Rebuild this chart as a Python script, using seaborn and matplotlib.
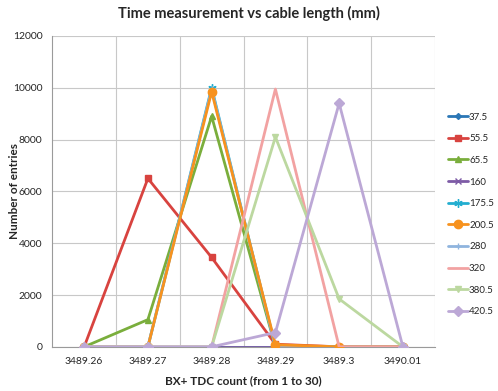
import numpy as np
import pandas as pd
import matplotlib
matplotlib.use("Agg")
import matplotlib.pyplot as plt
import seaborn as sns

# categories on x axis (BX+ TDC count)
x_labels = ["3489.26", "3489.27", "3489.28", "3489.29", "3489.3", "3490.01"]

# cable lengths (mm) and counts per category
cable = ["37.5", "55.5", "65.5", "160", "175.5", "200.5", "280", "320", "380.5", "420.5"]
v_37_5 = [0, 0, 0, 0, 0, 0]
v_55_5 = [0, 6500, 3450, 100, 0, 0]
v_65_5 = [0, 1050, 8900, 0, 0, 0]
v_160 = [0, 0, 0, 0, 0, 0]
v_175_5 = [0, 0, 10000, 0, 0, 0]
v_200_5 = [0, 0, 9850, 80, 0, 0]
v_280 = [0, 0, 9950, 0, 0, 0]
v_320 = [0, 0, 0, 9950, 0, 0]
v_380_5 = [0, 0, 0, 8100, 1850, 0]
v_420_5 = [0, 0, 0, 550, 9400, 0]

values = [v_37_5, v_55_5, v_65_5, v_160, v_175_5, v_200_5, v_280, v_320, v_380_5, v_420_5]

colors = ["#2b77b6", "#d8433f", "#7aae3c", "#7d5ba6", "#22aed0",
          "#f7921e", "#8fb4de", "#f2a2a2", "#bcd8a0", "#bca8d6"]
markers = ["D", "s", "^", "x", (6, 2, 0), "o", "+", "", "v", "D"]
msizes = [3, 5, 5, 5, 6, 6, 5, 0, 4, 5]
# orange drawn over the light blue at the peak, as in the original
zorders = [2, 2.1, 2.2, 2.3, 2.4, 2.65, 2.5, 2.7, 2.8, 2.9]

rows = []
for c, vals in zip(cable, values):
    for i, v in enumerate(vals):
        rows.append({"cable": c, "pos": i, "count": v})
df = pd.DataFrame(rows)

sns.set_style("white")
plt.rcParams["font.family"] = ["Lato", "DejaVu Sans"]

fig = plt.figure(figsize=(4.98, 3.91), dpi=100)
ax = fig.add_axes([0.105, 0.113, 0.768, 0.795])

for c, col, m, ms, z in zip(cable, colors, markers, msizes, zorders):
    d = df[df["cable"] == c]
    sns.lineplot(data=d, x="pos", y="count", ax=ax, color=col, marker=m if m else None,
                 markersize=ms, markeredgecolor=col, markeredgewidth=1.0,
                 linewidth=2.0, label=c, zorder=z)

ax.set_xlim(-0.5, len(x_labels) - 0.5)
ax.set_ylim(0, 12000)
ax.set_yticks(np.arange(0, 12001, 2000))
ax.set_xticks(np.arange(len(x_labels)))
ax.set_xticklabels(x_labels)
ax.set_xticks(np.arange(len(x_labels)) + 0.5, minor=True)

ax.grid(False)
ax.yaxis.grid(True, color="#c8c8c8", linewidth=0.8)
ax.xaxis.grid(True, which="minor", color="#c8c8c8", linewidth=0.8)
ax.set_axisbelow(True)

for s in ["top", "right"]:
    ax.spines[s].set_visible(False)
for s in ["left", "bottom"]:
    ax.spines[s].set_color("#9a9a9a")
    ax.spines[s].set_linewidth(0.8)

ax.tick_params(axis="x", which="major", length=0, labelsize=7.5, pad=7)
ax.tick_params(axis="x", which="minor", length=4, color="#9a9a9a", direction="out")
ax.tick_params(axis="y", length=4, color="#9a9a9a", direction="out", labelsize=7.5, pad=3)

ax.set_xlabel("BX+ TDC count (from 1 to 30)", fontsize=8.5, fontweight="bold", labelpad=7)
ax.set_ylabel("Number of entries", fontsize=8.5, fontweight="bold")
ax.yaxis.set_label_coords(-0.085, 0.5)
fig.suptitle("Time measurement vs cable length (mm)", fontsize=10.5, fontweight="bold",
             x=0.5, y=0.985)

ax.legend(loc="upper left", bbox_to_anchor=(0.892, 0.722), bbox_transform=fig.transFigure,
          frameon=False, fontsize=7, handlelength=2.0, handletextpad=0.15,
          labelspacing=1.3, borderaxespad=0)

fig.savefig("out.png", dpi=100)
